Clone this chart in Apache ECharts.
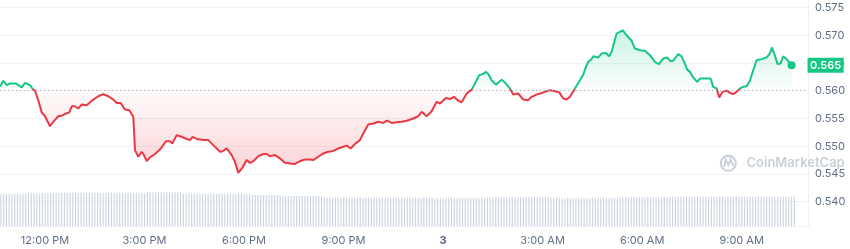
<!DOCTYPE html>
<html><head><meta charset="utf-8">
<script src="https://cdn.jsdelivr.net/npm/echarts@6/dist/echarts.min.js"></script>
<style>html,body{margin:0;padding:0;background:#fff}#c{width:850px;height:249px}</style>
</head><body><div id="c"></div>
<script>
// price samples: hour of day (day 2 = 0..24, day 3 = 24..48) and price in USD
const times = [
10.644,10.744,10.846,10.945,11.126,11.298,11.397,11.548,11.617,11.699,
11.798,11.901,12.000,12.151,12.250,12.401,12.504,12.603,12.733,12.805,
12.904,13.004,13.106,13.257,13.456,13.607,13.757,13.908,14.059,14.161,
14.282,14.411,14.541,14.662,14.713,14.812,14.915,14.984,15.065,15.165,
15.316,15.466,15.647,15.768,15.837,15.970,16.120,16.271,16.370,16.452,
16.572,16.771,16.922,17.073,17.275,17.356,17.477,17.627,17.727,17.826,
17.959,18.079,18.179,18.278,18.429,18.580,18.682,18.782,18.932,19.083,
19.234,19.384,19.535,19.686,19.836,19.987,20.087,20.237,20.388,20.539,
20.641,20.741,20.840,20.991,21.093,21.214,21.343,21.494,21.594,21.744,
21.895,22.046,22.196,22.317,22.450,22.600,22.751,22.902,23.101,23.251,
23.354,23.504,23.655,23.806,23.905,24.086,24.207,24.327,24.457,24.559,
24.710,24.861,24.960,25.089,25.192,25.292,25.361,25.463,25.593,25.765,
25.894,26.015,26.115,26.265,26.416,26.567,26.669,26.820,26.970,27.070,
27.220,27.371,27.501,27.621,27.724,27.823,27.974,28.125,28.224,28.327,
28.375,28.477,28.526,28.676,28.779,28.908,29.008,29.080,29.231,29.330,
29.411,29.532,29.683,29.782,29.933,30.084,30.235,30.385,30.506,30.635,
30.756,30.858,30.937,31.087,31.190,31.289,31.359,31.440,31.540,31.660,
31.741,31.892,32.064,32.142,32.245,32.323,32.426,32.546,32.646,32.745,
32.847,32.947,33.047,33.149,33.248,33.348,33.450,33.601,33.752,33.851,
33.911,33.981,34.083,34.173,34.252,34.354,34.505
];
const prices = [
0.5607,0.5618,0.5610,0.5613,0.5613,0.5606,0.5614,0.5610,0.5604,0.5600,
0.5583,0.5561,0.5554,0.5536,0.5544,0.5554,0.5555,0.5558,0.5561,0.5572,
0.5572,0.5568,0.5575,0.5574,0.5584,0.5590,0.5594,0.5590,0.5584,0.5578,
0.5578,0.5566,0.5565,0.5553,0.5493,0.5481,0.5490,0.5484,0.5473,0.5480,
0.5486,0.5494,0.5509,0.5509,0.5505,0.5520,0.5517,0.5513,0.5511,0.5517,
0.5513,0.5511,0.5511,0.5502,0.5490,0.5491,0.5496,0.5484,0.5472,0.5452,
0.5462,0.5475,0.5470,0.5473,0.5482,0.5486,0.5486,0.5482,0.5484,0.5478,
0.5470,0.5469,0.5468,0.5473,0.5476,0.5476,0.5475,0.5481,0.5487,0.5490,
0.5491,0.5493,0.5496,0.5499,0.5501,0.5496,0.5504,0.5511,0.5523,0.5539,
0.5541,0.5544,0.5542,0.5546,0.5542,0.5543,0.5544,0.5546,0.5550,0.5554,
0.5562,0.5554,0.5563,0.5580,0.5577,0.5587,0.5585,0.5589,0.5582,0.5579,
0.5595,0.5602,0.5613,0.5628,0.5630,0.5634,0.5630,0.5619,0.5611,0.5620,
0.5613,0.5604,0.5593,0.5595,0.5584,0.5583,0.5589,0.5593,0.5596,0.5598,
0.5601,0.5599,0.5597,0.5586,0.5584,0.5589,0.5604,0.5619,0.5629,0.5646,
0.5652,0.5657,0.5662,0.5660,0.5667,0.5668,0.5662,0.5670,0.5703,0.5706,
0.5709,0.5700,0.5690,0.5676,0.5673,0.5672,0.5664,0.5652,0.5648,0.5658,
0.5660,0.5653,0.5654,0.5666,0.5662,0.5649,0.5638,0.5634,0.5624,0.5616,
0.5622,0.5622,0.5622,0.5607,0.5604,0.5588,0.5598,0.5600,0.5596,0.5594,
0.5598,0.5604,0.5607,0.5608,0.5618,0.5637,0.5655,0.5657,0.5660,0.5667,
0.5678,0.5667,0.5648,0.5649,0.5662,0.5657,0.5646
];
const baseline = 0.5603;
// 5-minute volume bars (millions)
const volumeM = [
32,32,32,32,32,32,32,32,
32.7,32.7,32.7,32.7,32.7,32.7,32.7,32.7,32.7,32.7,32.7,
33.3,33.3,33.3,33.3,33.3,33.3,33.3,33.3,33.3,33.3,33.3,33.3,33.3,33.3,33.3,33.3,33.3,33.3,33.3,33.3,33.3,33.3,
32.7,32.7,32.7,32.7,32.7,32.7,32.7,32.7,32.7,32.7,32.7,32.7,
33.7,33.7,33.7,33.7,33.7,33.7,33.7,33.7,33.7,33.7,33.7,33.7,33.7,
32.3,32.3,32.3,32.3,32.3,32.3,32.3,32.3,32.3,32.3,32.3,32.3,32.3,32.3,32.3,32.3,32.3,32.3,32.3,32.3,32.3,32.3,32.3,32.3,32.3,
31,31,31,31,31,31,31,31,31,31,31,
30,30,30,30,30,30,30,30,30,30,30,30,30,30,30,
28.3,28.3,28.3,28.3,28.3,28.3,28.3,28.3,28.3,28.3,28.3,28.3,28.3,28.3,28.3,28.3,28.3,28.3,28.3,28.3,
28.3,28.3,28.3,28.3,28.3,28.3,28.3,28.3,28.3,28.3,28.3,28.3,28.3,28.3,28.3,28.3,28.3,28.3,28.3,28.3,
27.8,27.8,27.8,27.8,27.8,27.8,27.8,27.8,27.8,27.8,27.8,27.8,27.8,27.8,27.8,27.8,27.8,27.8,27.8,27.8,
28.7,28.7,28.7,28.7,28.7,28.7,28.7,28.7,28.7,28.7,28.7,28.7,28.7,28.7,28.7,28.7,28.7,28.7,28.7,28.7,28.7,28.7,28.7,
27.8,27.8,27.8,27.8,27.8,27.8,27.8,27.8,27.8,27.8,27.8,27.8,27.8,27.8,27.8,27.8,27.8,27.8,27.8,27.8,27.8,27.8,27.8,27.8,
28.7,28.7,28.7,28.7,28.7,28.7,28.7,28.7,28.7,28.7,28.7,28.7,28.7,28.7,28.7,28.7,28.7,28.7,
29.3,29.3,29.3,29.3,29.3,29.3,29.3,29.3,29.3,29.3,29.3,29.3,29.3,29.3,29.3,29.3,29.3,29.3,29.3,29.3,29.3,29.3,29.3,
29.3,29.3,29.3,29.3,29.3,29.3,29.3,29.3,29.3,29.3,29.3,29.3,29.3,29.3,29.3,29.3,29.3,29.3,29.3,29.3,29.3,29.3,29.3
];
const volumeStartHour = 10.67;
const volumeStepHours = 5 / 60;
const tickHours = [12, 15, 18, 21, 24, 27, 30, 33];
const tickLabels = ['12:00 PM', '3:00 PM', '6:00 PM', '9:00 PM', '3', '3:00 AM', '6:00 AM', '9:00 AM'];
const yMin = 0.540, yMax = 0.575, yStep = 0.005;
const xMin = 10.644, xMax = 35;

const GREEN = '#16c784', RED = '#ea3943', TXT = '#616e85', FONT = 'Inter, "Noto Sans", sans-serif';
const chart = echarts.init(document.getElementById('c'));
const pData = times.map((t, i) => [t, prices[i]]);
const vData = volumeM.map((v, i) => [volumeStartHour + i * volumeStepHours, v]);
const pmax = Math.max(...prices), pmin = Math.min(...prices);
const off = (pmax - baseline) / (pmax - pmin);
const last = pData[pData.length - 1];

chart.setOption({
  animation: false,
  grid: [
    {left: 0, right: 42, top: 7.5, bottom: 47.3},
    {left: 0, right: 42, top: 0, bottom: 23}
  ],
  xAxis: [
    {type: 'value', gridIndex: 0, min: xMin, max: xMax, show: false},
    {type: 'value', gridIndex: 1, min: xMin, max: xMax,
      axisLine: {show: true, lineStyle: {color: '#eef0f3'}},
      axisTick: {show: false}, splitLine: {show: false},
      axisLabel: {
        customValues: tickHours,
        formatter: v => { const i = tickHours.indexOf(v); return i === 4 ? '{b|' + tickLabels[i] + '}' : tickLabels[i]; },
        color: TXT, fontSize: 11, fontFamily: FONT, margin: 9,
        rich: {b: {fontWeight: 'bold', color: '#58667e', fontSize: 11, fontFamily: FONT}}
      }}
  ],
  yAxis: [
    {type: 'value', gridIndex: 0, position: 'right', min: yMin, max: yMax, interval: yStep,
      axisLine: {show: false}, axisTick: {show: false},
      splitLine: {lineStyle: {color: '#f0f2f5'}},
      axisLabel: {formatter: v => v.toFixed(3), color: TXT, fontSize: 11, fontFamily: FONT, margin: 7}},
    {type: 'value', gridIndex: 1, position: 'right', min: 0, max: 226,
      axisLine: {show: true, lineStyle: {color: '#eef0f3'}}, axisTick: {show: false},
      axisLabel: {show: false}, splitLine: {show: false}}
  ],
  visualMap: {type: 'piecewise', show: false, seriesIndex: 1, dimension: 1,
    pieces: [{gte: yMin, lte: baseline, color: RED}, {gt: baseline, lte: yMax, color: GREEN}],
    outOfRange: {color: GREEN}},
  graphic: [
    {type: 'circle', shape: {cx: 728.3, cy: 163.3, r: 7.5}, style: {fill: 'none', stroke: '#c9cfd9', lineWidth: 2}, z: 1},
    {type: 'polyline', shape: {points: [[724, 167], [725.8, 159.5], [728.3, 165], [730.6, 159.5], [732.8, 165], [734, 164]]},
      style: {fill: 'none', stroke: '#c9cfd9', lineWidth: 1.8}, z: 1},
    {type: 'text', x: 746.5, y: 163.5, style: {text: 'CoinMarketCap', fill: '#c9cfd9', font: '600 13px Inter, sans-serif', verticalAlign: 'middle'}, z: 1}
  ],
  series: [
    {type: 'bar', xAxisIndex: 1, yAxisIndex: 1, data: vData, barWidth: 1.2,
      itemStyle: {color: '#cfd6e3'}, silent: true},
    {type: 'line', xAxisIndex: 0, yAxisIndex: 0, data: pData, showSymbol: false, symbol: 'none',
      lineStyle: {width: 2}, z: 3,
      areaStyle: {origin: baseline, opacity: 1,
        color: new echarts.graphic.LinearGradient(0, 0, 0, 1, [
          {offset: 0, color: 'rgba(22,199,132,0.22)'},
          {offset: Math.max(0, off - 0.001), color: 'rgba(22,199,132,0.02)'},
          {offset: off, color: 'rgba(234,57,67,0.02)'},
          {offset: 1, color: 'rgba(234,57,67,0.22)'}
        ])},
      markLine: {silent: true, symbol: 'none', label: {show: false},
        lineStyle: {type: [1, 3], color: '#a7afbe', width: 1},
        data: [{yAxis: baseline}]},
      markPoint: {silent: true, data: [
        {coord: last, symbol: 'circle', symbolSize: 8, itemStyle: {color: GREEN}, label: {show: false}},
        {coord: last, symbol: 'rect', symbolSize: [36, 15], symbolOffset: [34, 0], itemStyle: {color: GREEN},
          label: {show: true, position: 'inside', formatter: last[1].toFixed(3), color: '#fff', fontSize: 11, fontWeight: 600, fontFamily: FONT}}
      ]}
    }
  ]
});
</script>
</body></html>
